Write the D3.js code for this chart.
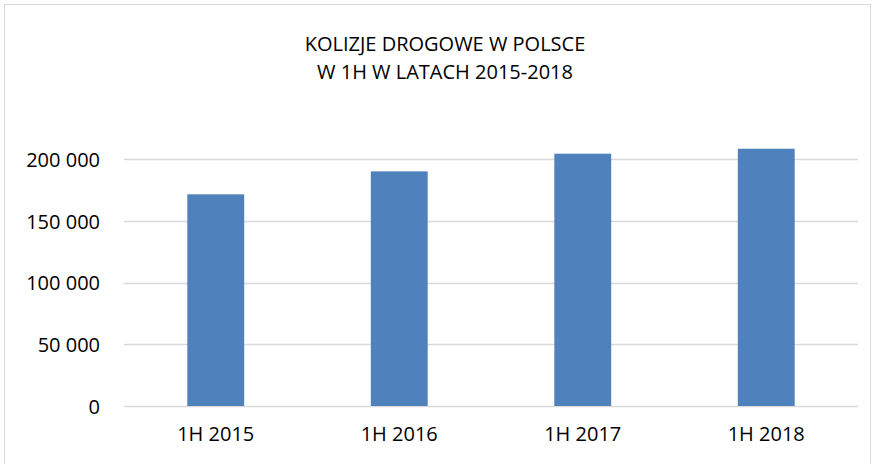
<!DOCTYPE html>
<html><head><meta charset="utf-8">
<script src="https://cdn.jsdelivr.net/npm/d3@7"></script>
<style>body{margin:0;background:#fff}svg{display:block}text{font-family:"Open Sans",sans-serif;fill:#000}</style>
</head><body>
<svg id="c" width="875" height="464"></svg>
<script>
const categories = ["1H 2015","1H 2016","1H 2017","1H 2018"];
const values = [171400, 190000, 204300, 208300];
const yTicks = [0, 50000, 100000, 150000, 200000];
const titleLines = ["KOLIZJE DROGOWE W POLSCE","W 1H W LATACH 2015-2018"];

const svg = d3.select("#c");
svg.append("rect").attr("x",4.5).attr("y",4.5).attr("width",866).attr("height",470)
  .attr("fill","#fff").attr("stroke","#d9d9d9").attr("stroke-width",1);

const m = {l:124, r:858, t:159, b:406};
const x = d3.scaleBand().domain(categories).range([m.l, m.r]).paddingInner(0.69).paddingOuter(0.345);
const y = d3.scaleLinear().domain([0,200000]).range([m.b, m.t]);
const fmt = v => d3.format(",")(v).replace(/,/g," ");

const g = svg.append("g");
g.selectAll("line.grid").data(yTicks).join("line")
  .attr("x1",m.l).attr("x2",m.r)
  .attr("y1",d=>Math.round(y(d))+0.5).attr("y2",d=>Math.round(y(d))+0.5)
  .attr("stroke","#d9d9d9").attr("stroke-width",1.5);

const yAxis = d3.axisLeft(y).tickValues(yTicks).tickFormat(fmt).tickSize(0).tickPadding(24);
const ya = svg.append("g").attr("transform",`translate(${m.l},1)`).call(yAxis);
ya.select(".domain").remove();
ya.selectAll("text").style("font-family","'Open Sans',sans-serif").style("font-size","20px").attr("fill","#000");

g.selectAll("rect.bar").data(values).join("rect")
  .attr("x",(d,i)=>x(categories[i])).attr("width",x.bandwidth())
  .attr("y",d=>y(d)).attr("height",d=>y(0)-y(d)).attr("fill","#4f81bd");

const xAxis = d3.axisBottom(x).tickSize(0).tickPadding(21);
const xa = svg.append("g").attr("transform",`translate(0,${m.b})`).call(xAxis);
xa.select(".domain").remove();
xa.selectAll("text").style("font-family","'Open Sans',sans-serif").style("font-size","20px").attr("fill","#000");

svg.selectAll("text.title").data(titleLines).join("text")
  .attr("x",445).attr("y",(d,i)=>51+i*28).attr("text-anchor","middle")
  .style("font-size","20px").text(d=>d);
</script>
</body></html>
